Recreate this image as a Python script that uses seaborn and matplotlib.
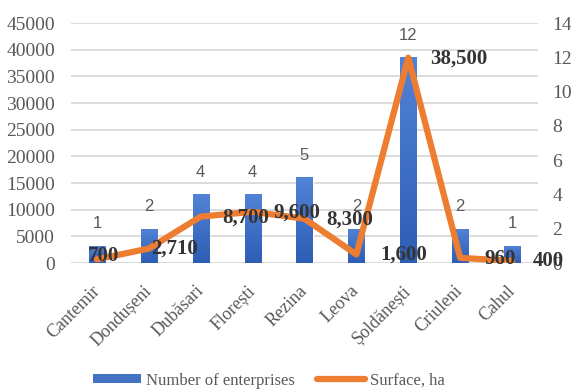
import numpy as np
import matplotlib
matplotlib.use("Agg")
import matplotlib.pyplot as plt
from matplotlib.patches import Patch
from matplotlib.lines import Line2D
import seaborn as sns

# ---- data ----
districts = ["Cantemir", "Dondușeni", "Dubăsari", "Florești", "Rezina",
             "Leova", "Șoldănești", "Criuleni", "Cahul"]
enterprises = [1, 2, 4, 4, 5, 2, 12, 2, 1]
surface_ha = [700, 2710, 8700, 9600, 8300, 1600, 38500, 960, 400]
surface_labels = ["700", "2,710", "8,700", "9,600", "8,300", "1,600", "38,500", "960", "400"]
left_ticks = [0, 5000, 10000, 15000, 20000, 25000, 30000, 35000, 40000, 45000]
right_ticks = [0, 2, 4, 6, 8, 10, 12, 14]

# ---- style ----
sns.set_theme(style="white")
plt.rcParams["font.family"] = ["Liberation Serif", "DejaVu Serif"]
GRAY = "#595959"
BLUE = "#4472C4"
ORANGE = "#ED7D31"
# label offsets in pixels (left edge relative to point, vertical)
label_dx = [-9, 2, 22, 21, 22, 24, 22, 24, 21]
label_dy = [3, 0, -1, -1, -1, 0, -1, -1, 0]

fig = plt.figure(figsize=(5.71, 3.90), dpi=100)
ax = fig.add_axes([71/571, 1-263/390, (538-71)/571, (263-23)/390])
axb = ax.twinx()
axl = ax.twinx()

# grid on host
ax.set_ylim(0, 45000)
ax.set_yticks(left_ticks)
ax.set_yticklabels([str(t) for t in left_ticks])
ax.grid(axis="y", color="#d9d9d9", linewidth=1.3)
ax.grid(axis="x", visible=False)
for s in ax.spines.values():
    s.set_visible(False)
ax.tick_params(axis="y", left=False, length=0, labelsize=14, labelcolor=GRAY, pad=11.5)

# bars (right axis)
sns.barplot(x=np.arange(len(districts)), y=enterprises, ax=axb, color=BLUE,
            width=0.31, saturation=1, native_scale=True)
axb.set_ylim(0, 14)
axb.set_yticks(right_ticks)
axb.set_yticklabels([str(t) for t in right_ticks])
axb.tick_params(axis="y", right=False, length=0, labelsize=14, labelcolor=GRAY, pad=10.5)
for s in axb.spines.values():
    s.set_visible(False)
axb.set_ylabel("")
axb.set_xlabel("")

# gradient fill for bars
grad = np.linspace(0, 1, 256).reshape(-1, 1)
cmap = matplotlib.colors.LinearSegmentedColormap.from_list("g", ["#2E5DB4", "#5283D6"])
for p in list(axb.patches):
    x0, y0 = p.get_x(), p.get_y()
    w, h = p.get_width(), p.get_height()
    im = axb.imshow(grad, extent=[x0, x0 + w, y0, y0 + h], origin="lower",
                    aspect="auto", cmap=cmap, zorder=p.get_zorder())
    im.set_clip_path(p)

for i, v in enumerate(enterprises):
    axb.annotate(str(v), (i, v), xytext=(0, 22), textcoords="offset pixels",
                 ha="center", va="center", fontsize=12, color=GRAY,
                 family=["Liberation Sans", "DejaVu Sans"])

# line (left axis scale)
sns.lineplot(x=np.arange(len(districts)), y=surface_ha, ax=axl, color=ORANGE,
             linewidth=4.5, sort=False)
axl.set_ylim(ax.get_ylim())
axl.set_yticks([])
axl.set_ylabel("")
for s in axl.spines.values():
    s.set_visible(False)
for i, (v, lab) in enumerate(zip(surface_ha, surface_labels)):
    axl.annotate(lab, (i, v), xytext=(label_dx[i], label_dy[i]), textcoords="offset pixels",
                 ha="left", va="center", fontsize=15, fontweight="bold", color="#333333")

# x axis
ax.set_xlim(-0.5, len(districts) - 0.5)
axb.set_xlim(-0.5, len(districts) - 0.5)
axl.set_xlim(-0.5, len(districts) - 0.5)
ax.set_xticks(np.arange(len(districts)))
ax.set_xticklabels(districts, rotation=45, ha="right", va="center",
                   rotation_mode="anchor", fontsize=13, color=GRAY)
ax.tick_params(axis="x", bottom=False, pad=12)

handles = [Patch(facecolor=BLUE, edgecolor="none"),
           Line2D([0], [0], color=ORANGE, linewidth=4.5, solid_capstyle="round")]
fig.legend(handles, ["Number of enterprises", "Surface, ha"], loc="lower center",
           bbox_to_anchor=(0.471, -0.035), ncol=2, frameon=False, fontsize=12,
           handlelength=2.9, handleheight=0.5, columnspacing=1.3, handletextpad=0.3,
           labelcolor=GRAY)

fig.savefig("out.png", dpi=100)
